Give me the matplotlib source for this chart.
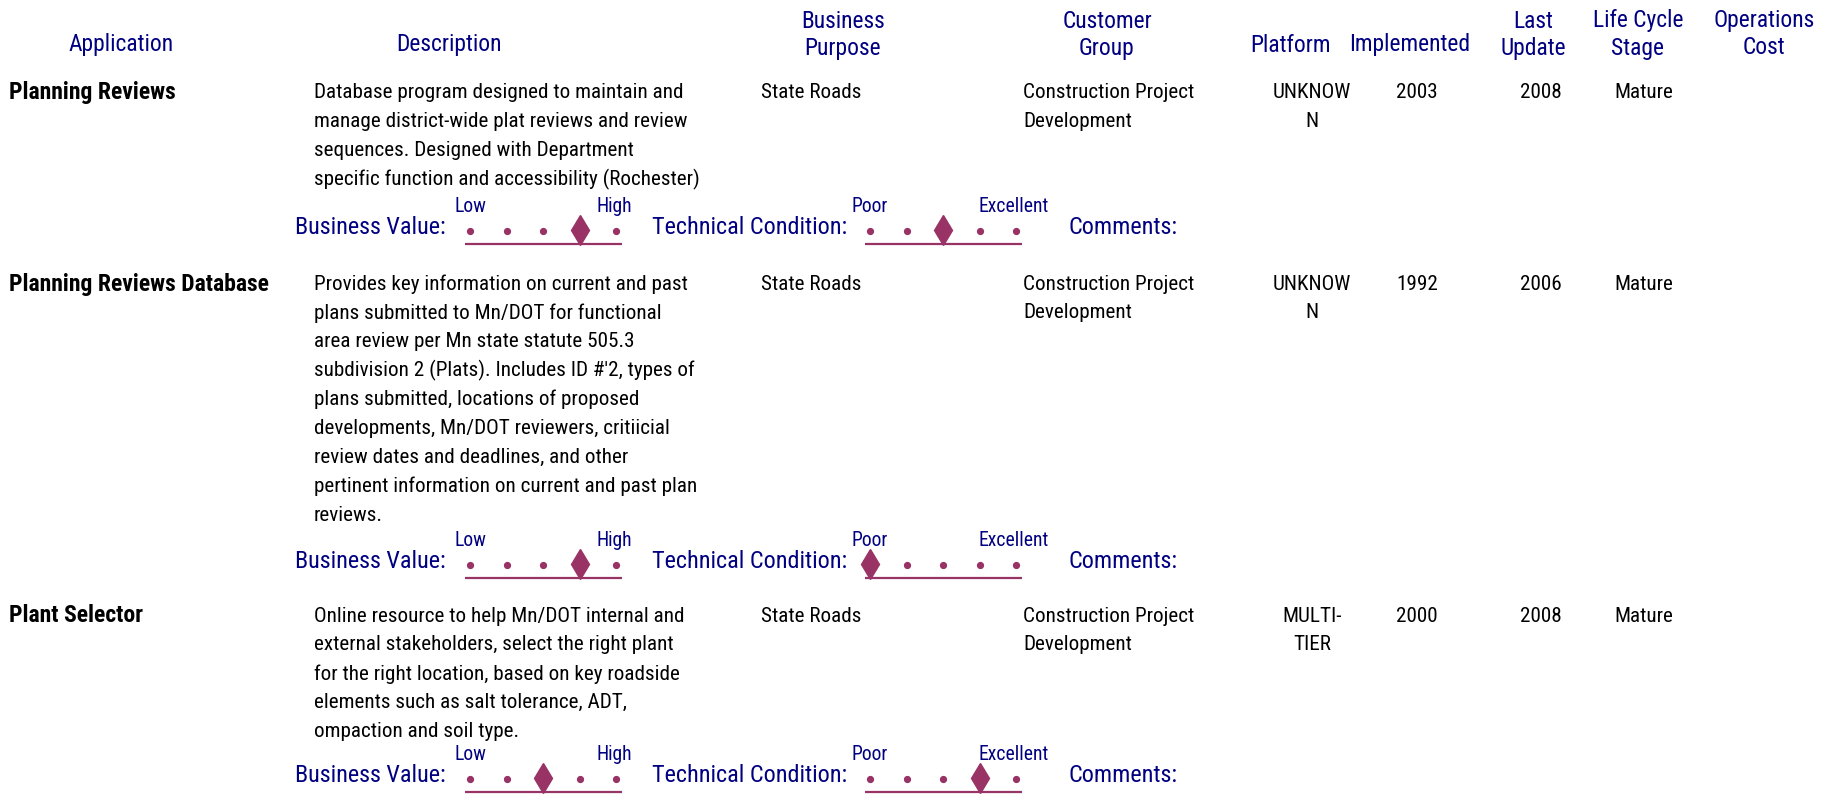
import matplotlib
matplotlib.use("Agg")
import matplotlib.pyplot as plt
import matplotlib.font_manager as fm

# ---------------- data ----------------
headers = ["Application", "Description", "Business\nPurpose", "Customer\nGroup",
           "Platform", "Implemented", "Last\nUpdate", "Life Cycle\nStage", "Operations\nCost"]
apps = ["Planning Reviews", "Planning Reviews Database", "Plant Selector"]
descriptions = [
    ["Database program designed to maintain and",
     "manage district-wide plat reviews and review",
     "sequences. Designed with Department",
     "specific function and accessibility (Rochester)"],
    ["Provides key information on current and past",
     "plans submitted to Mn/DOT for functional",
     "area review per Mn state statute 505.3",
     "subdivision 2 (Plats). Includes ID #'2, types of",
     "plans submitted, locations of proposed",
     "developments, Mn/DOT reviewers, critiicial",
     "review dates and deadlines, and other",
     "pertinent information on current and past plan",
     "reviews."],
    ["Online resource to help Mn/DOT internal and",
     "external stakeholders, select the right plant",
     "for the right location, based on key roadside",
     "elements such as salt tolerance, ADT,",
     "ompaction and soil type."],
]
business_purpose = ["State Roads", "State Roads", "State Roads"]
customer_group = [["Construction Project", "Development"]] * 3
platform = [["UNKNOW", "N"], ["UNKNOW", "N"], ["MULTI-", "TIER"]]
implemented = ["2003", "1992", "2000"]
last_update = ["2008", "2006", "2008"]
life_cycle = ["Mature", "Mature", "Mature"]
business_value = [4, 4, 3]     # position on 1..5 scale (Low..High)
tech_condition = [3, 1, 4]     # position on 1..5 scale (Poor..Excellent)

# ---------------- style ----------------
names = {f.name for f in fm.fontManager.ttflist}
FAM = None
for cand in ["Liberation Sans Narrow", "Arial Narrow", "Roboto Condensed",
             "PT Sans Narrow", "Archivo Narrow", "Liberation Sans"]:
    if cand in names:
        FAM = [cand, "DejaVu Sans"]
        break
plt.rcParams["font.family"] = FAM
NAVY = "#000080"
PLUM = "#993366"

W, H = 1838, 798
fig = plt.figure(figsize=(W / 100, H / 100), dpi=100)
ax = fig.add_axes([0, 0, 1, 1])
ax.set_xlim(0, W)
ax.set_ylim(H, 0)
ax.axis("off")
renderer = fig.canvas.get_renderer()

def fit(s, target, weight="normal"):
    t = fig.text(0, 0, s, fontsize=10, fontweight=weight)
    w = t.get_window_extent(renderer).width
    t.remove()
    return 10 * target / w

FS = fit("Database program designed to maintain and", 368)
FSH = fit("Implemented", 120)
FSB = fit("Planning Reviews Database", 259, "bold")
FSL = fit("Business Value:", 150)
FSS = fit("Excellent", 70)

# header
hdr_x = [121, 449, 843, 1107, 1291, 1410, 1533, 1638, 1764]
for h, x in zip(headers, hdr_x):
    lines = h.split("\n")
    ys = [45] if len(lines) == 1 else [21, 48]
    for ln, y in zip(lines, ys):
        ax.text(x, y, ln, color=NAVY, fontsize=FSH, ha="center", va="center")

row_y = [93, 284, 616]
rate_y = [230, 564, 778]
LS = 28.9

def scale(x0, y, lo, hi, val):
    xs = [x0 + i * 36.5 for i in range(5)]
    ax.text(xs[0], y - 23, lo, color=NAVY, fontsize=FSS, ha="center", va="center")
    ax.text(xs[4] - 2, y - 23, hi, color=NAVY, fontsize=FSS, ha="center", va="center")
    dots = [x for i, x in enumerate(xs) if i + 1 != val]
    ax.plot(dots, [y + 1] * len(dots), ls="none", marker="o", ms=4.2, color=PLUM)
    ax.plot([xs[val - 1]], [y], ls="none", marker="d", ms=15, color=PLUM)
    ax.plot([xs[0] - 5, xs[4] + 6], [y + 14, y + 14], color=PLUM, lw=1.6,
            solid_capstyle="butt")

for r in range(len(apps)):
    y0 = row_y[r]
    ax.text(9, y0, apps[r], fontsize=FSB, fontweight="bold", va="center", ha="left")
    for k, ln in enumerate(descriptions[r]):
        ax.text(314, y0 + k * LS, ln, fontsize=FS, va="center", ha="left")
    ax.text(761, y0, business_purpose[r], fontsize=FS, va="center", ha="left")
    for k, ln in enumerate(customer_group[r]):
        ax.text(1023, y0 + k * LS, ln, fontsize=FS, va="center", ha="left")
    for k, ln in enumerate(platform[r]):
        ax.text(1312, y0 + k * LS, ln, fontsize=FS, va="center", ha="center")
    ax.text(1417, y0, implemented[r], fontsize=FS, va="center", ha="center")
    ax.text(1541, y0, last_update[r], fontsize=FS, va="center", ha="center")
    ax.text(1614, y0, life_cycle[r], fontsize=FS, va="center", ha="left")

    yr = rate_y[r]
    ax.text(295, yr - 2, "Business Value:", color=NAVY, fontsize=FSL, va="center", ha="left")
    scale(470, yr, "Low", "High", business_value[r])
    ax.text(652, yr - 2, "Technical Condition:", color=NAVY, fontsize=FSL, va="center", ha="left")
    scale(870, yr, "Poor", "Excellent", tech_condition[r])
    ax.text(1068, yr - 2, "Comments:", color=NAVY, fontsize=FSL, va="center", ha="left")

fig.savefig("out.png", dpi=100)
